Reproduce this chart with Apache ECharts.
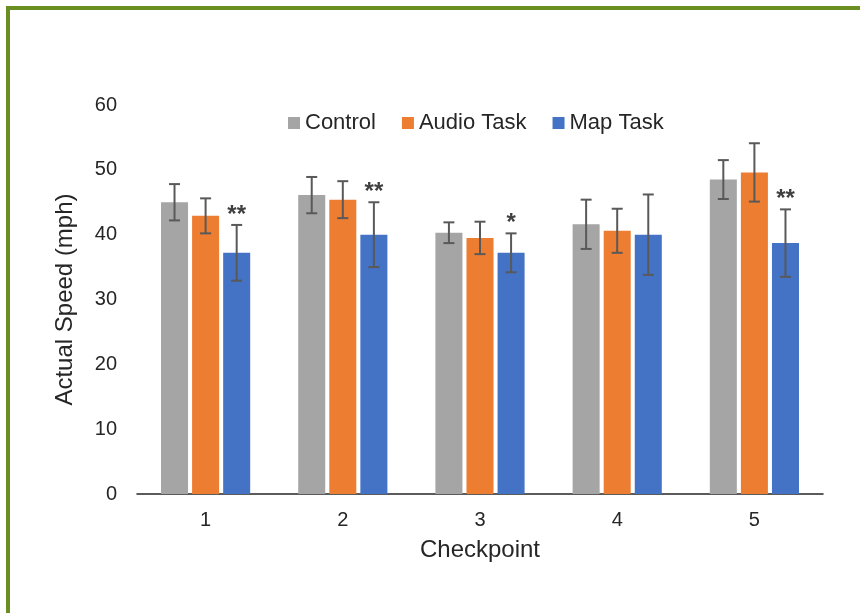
<!DOCTYPE html>
<html>
<head>
<meta charset="utf-8">
<script src="https://cdn.jsdelivr.net/npm/echarts@6/dist/echarts.min.js"></script>
<style>
  html, body { margin: 0; padding: 0; background: #fff; }
  #chart { width: 860px; height: 613px; }
</style>
</head>
<body>
<div id="chart"></div>
<script>
// checkpoints on the x axis
const checkpoints = ['1', '2', '3', '4', '5'];
const seriesNames = ['Control', 'Audio Task', 'Map Task'];
const seriesColors = ['#a5a5a5', '#ed7d31', '#4472c4'];

// mean speed (mph) and error (+/-) per checkpoint
const controlMean = [45.0, 46.1, 40.3, 41.6, 48.5];
const controlErr = [2.8, 2.8, 1.6, 3.8, 3.0];
const audioMean = [42.9, 45.4, 39.5, 40.6, 49.6];
const audioErr = [2.7, 2.85, 2.5, 3.4, 4.5];
const mapMean = [37.2, 40.0, 37.2, 40.0, 38.7];
const mapErr = [4.3, 5.0, 3.0, 6.2, 5.2];
// significance marks above Map Task bars
const mapSig = ['**', '**', '*', '', '**'];

const yTicks = [0, 10, 20, 30, 40, 50, 60];

const CAT_GAP = 0.35, BAR_GAP = 0.15;
const means = [controlMean, audioMean, mapMean];
const errs = [controlErr, audioErr, mapErr];
const sigs = [null, null, mapSig];

// error bar items: [category, series, mean, err]
const errData = [];
means.forEach((arr, s) => {
  arr.forEach((v, c) => errData.push([c, s, v, errs[s][c]]));
});

function renderErr(params, api) {
  const cat = api.value(0), si = api.value(1);
  const mean = api.value(2), err = api.value(3);
  const band = api.size([1, 0])[0];
  const usable = band * (1 - CAT_GAP);
  const bw = usable / (3 + 2 * BAR_GAP);
  const off = -usable / 2 + si * bw * (1 + BAR_GAP) + bw / 2;
  const top = api.coord([cat, mean + err]);
  const bot = api.coord([cat, mean - err]);
  const x = top[0] + off;
  const cap = 5.5;
  const st = { stroke: '#595959', lineWidth: 2 };
  const children = [
    { type: 'line', shape: { x1: x, y1: top[1], x2: x, y2: bot[1] }, style: st },
    { type: 'line', shape: { x1: x - cap, y1: top[1], x2: x + cap, y2: top[1] }, style: st },
    { type: 'line', shape: { x1: x - cap, y1: bot[1], x2: x + cap, y2: bot[1] }, style: st }
  ];
  const sig = sigs[si] ? sigs[si][cat] : '';
  if (sig) {
    children.push({
      type: 'text',
      style: {
        x: x, y: top[1] - 10, text: sig,
        fill: '#404040', font: 'bold 24px "Liberation Sans", Arial',
        align: 'center', verticalAlign: 'middle'
      }
    });
  }
  return { type: 'group', children: children };
}

const chart = echarts.init(document.getElementById('chart'));
chart.setOption({
  animation: false,
  textStyle: { fontFamily: '"Liberation Sans", Arial, sans-serif' },
  graphic: [
    { type: 'rect', shape: { x: 6, y: 6, width: 4, height: 620 }, style: { fill: '#6b8e23' } },
    { type: 'rect', shape: { x: 6, y: 6, width: 860, height: 4 }, style: { fill: '#6b8e23' } }
  ],
  legend: {
    data: seriesNames,
    left: 283, top: 107,
    icon: 'rect', itemWidth: 12, itemHeight: 12, itemGap: 26,
    textStyle: { color: '#262626', fontSize: 22 }
  },
  grid: { left: 137, right: 37, top: 105, bottom: 119 },
  xAxis: {
    type: 'category',
    data: checkpoints,
    name: 'Checkpoint',
    nameLocation: 'middle',
    nameGap: 44,
    nameTextStyle: { color: '#262626', fontSize: 24 },
    axisLine: { lineStyle: { color: '#262626', width: 1.5 } },
    axisTick: { show: false },
    axisLabel: { color: '#262626', fontSize: 20, margin: 16 }
  },
  yAxis: {
    type: 'value',
    min: yTicks[0], max: yTicks[yTicks.length - 1], interval: 10,
    name: 'Actual Speed (mph)',
    nameLocation: 'middle',
    nameGap: 60,
    nameTextStyle: { color: '#262626', fontSize: 24 },
    axisLine: { show: false },
    axisTick: { show: false },
    splitLine: { show: false },
    axisLabel: { color: '#262626', fontSize: 20, margin: 20 }
  },
  series: seriesNames.map((name, i) => ({
    name: name,
    type: 'bar',
    data: means[i],
    barCategoryGap: (CAT_GAP * 100) + '%',
    barGap: (BAR_GAP * 100) + '%',
    itemStyle: { color: seriesColors[i] }
  })).concat([{
    name: 'err',
    type: 'custom',
    data: errData,
    encode: { x: 0, y: 2 },
    renderItem: renderErr,
    z: 10,
    silent: true
  }])
});
</script>
</body>
</html>
